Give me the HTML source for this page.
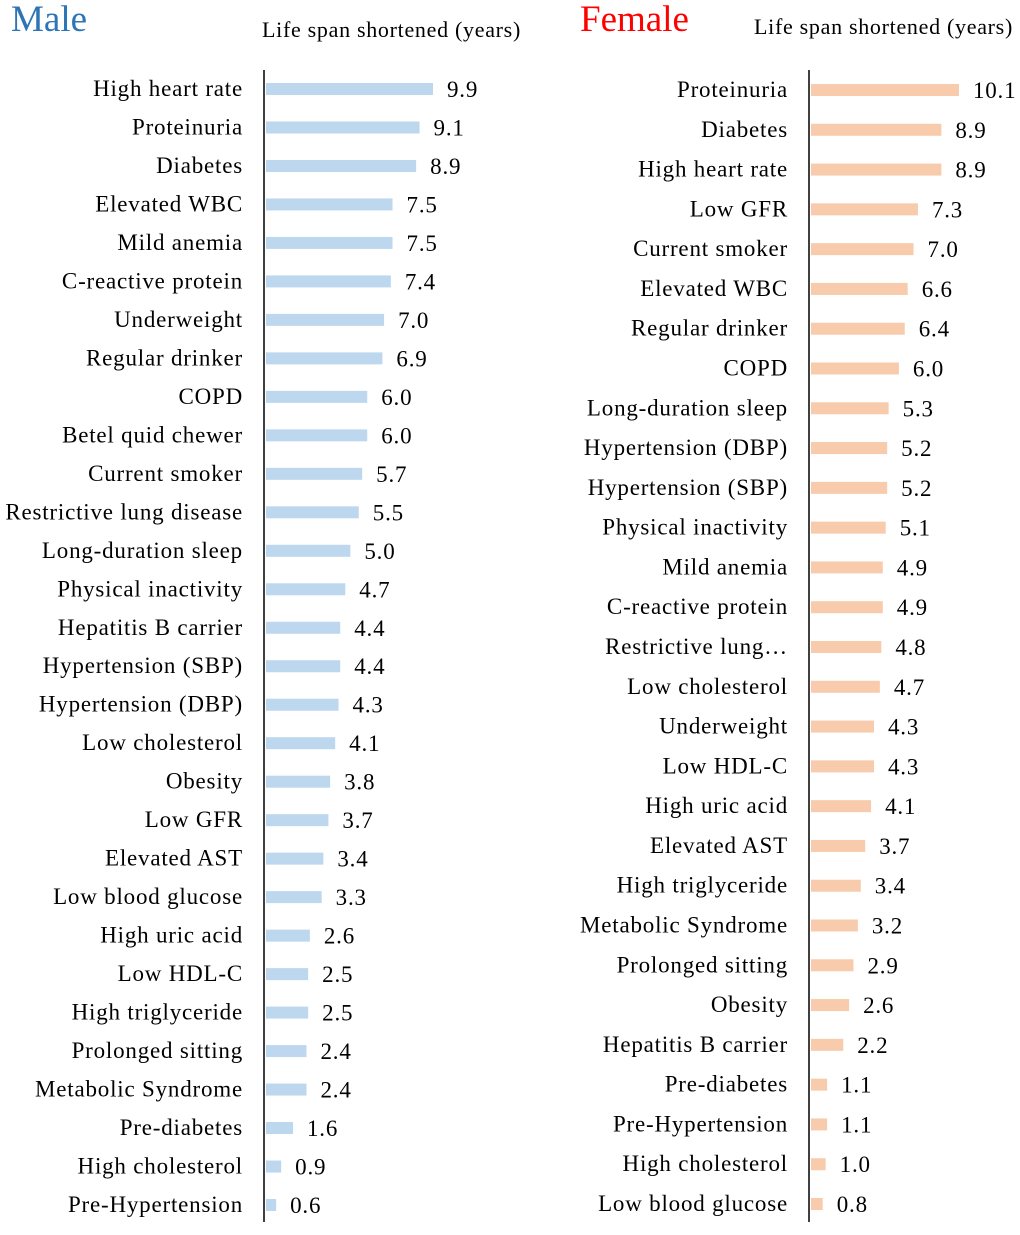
<!DOCTYPE html>
<html><head><meta charset="utf-8"><style>
body{margin:0;background:#fff}
svg text{font-family:"Liberation Serif",serif}
</style></head><body>
<svg id="c" width="1020" height="1230" xmlns="http://www.w3.org/2000/svg">
<text x="11" y="31" font-size="37" fill="#2e75b6">Male</text>
<text x="262" y="37" font-size="22" letter-spacing="0.7" fill="#000">Life span shortened (years)</text>
<text x="580" y="31" font-size="37" fill="#ff0000">Female</text>
<text x="754" y="34" font-size="22" letter-spacing="0.7" fill="#000">Life span shortened (years)</text>
<line x1="264" y1="70" x2="264" y2="1222" stroke="#000" stroke-width="1.5"/>
<line x1="809" y1="70" x2="809" y2="1222" stroke="#000" stroke-width="1.5"/>
<g id="m"></g><g id="f"></g>
</svg>
<script>
const maleCats=["High heart rate","Proteinuria","Diabetes","Elevated WBC","Mild anemia","C-reactive protein","Underweight","Regular drinker","COPD","Betel quid chewer","Current smoker","Restrictive lung disease","Long-duration sleep","Physical inactivity","Hepatitis B carrier","Hypertension (SBP)","Hypertension (DBP)","Low cholesterol","Obesity","Low GFR","Elevated AST","Low blood glucose","High uric acid","Low HDL-C","High triglyceride","Prolonged sitting","Metabolic Syndrome","Pre-diabetes","High cholesterol","Pre-Hypertension"];
const maleVals=[9.9,9.1,8.9,7.5,7.5,7.4,7.0,6.9,6.0,6.0,5.7,5.5,5.0,4.7,4.4,4.4,4.3,4.1,3.8,3.7,3.4,3.3,2.6,2.5,2.5,2.4,2.4,1.6,0.9,0.6];
const femaleCats=["Proteinuria","Diabetes","High heart rate","Low GFR","Current smoker","Elevated WBC","Regular drinker","COPD","Long-duration sleep","Hypertension (DBP)","Hypertension (SBP)","Physical inactivity","Mild anemia","C-reactive protein","Restrictive lung…","Low cholesterol","Underweight","Low HDL-C","High uric acid","Elevated AST","High triglyceride","Metabolic Syndrome","Prolonged sitting","Obesity","Hepatitis B carrier","Pre-diabetes","Pre-Hypertension","High cholesterol","Low blood glucose"];
const femaleVals=[10.1,8.9,8.9,7.3,7.0,6.6,6.4,6.0,5.3,5.2,5.2,5.1,4.9,4.9,4.8,4.7,4.3,4.3,4.1,3.7,3.4,3.2,2.9,2.6,2.2,1.1,1.1,1.0,0.8];
const NS="http://www.w3.org/2000/svg";
function draw(g,cats,vals,x0,scale,y0,y1,color,labX){
  const n=cats.length, step=(y1-y0)/(n-1);
  const xs=v=>x0+v*scale, ys=i=>y0+i*step;
  cats.forEach((c,i)=>{
    const y=ys(i);
    const r=document.createElementNS(NS,'rect');
    r.setAttribute('x',x0);r.setAttribute('y',y-6);
    r.setAttribute('width',xs(vals[i])-x0);r.setAttribute('height',12);
    r.setAttribute('fill',color);
    
    
    g.appendChild(r);
    const t=document.createElementNS(NS,'text');
    t.setAttribute('x',labX);t.setAttribute('y',y+7);
    t.setAttribute('text-anchor','end');t.setAttribute('font-size','23');
    t.setAttribute('letter-spacing','0.8');
    t.textContent=c;
    
    
    g.appendChild(t);
    const v=document.createElementNS(NS,'text');
    v.setAttribute('x',xs(vals[i])+14);v.setAttribute('y',y+8);
    v.setAttribute('font-size','23');
    v.setAttribute('letter-spacing','0.8');
    v.textContent=vals[i].toFixed(1);
    
    
    g.appendChild(v);
  });
}
draw(document.getElementById('m'),maleCats,maleVals,266,16.87,89,1205,'#bdd7ee',243);
draw(document.getElementById('f'),femaleCats,femaleVals,811,14.65,90,1204,'#f8cbad',788);
</script>
</body></html>
